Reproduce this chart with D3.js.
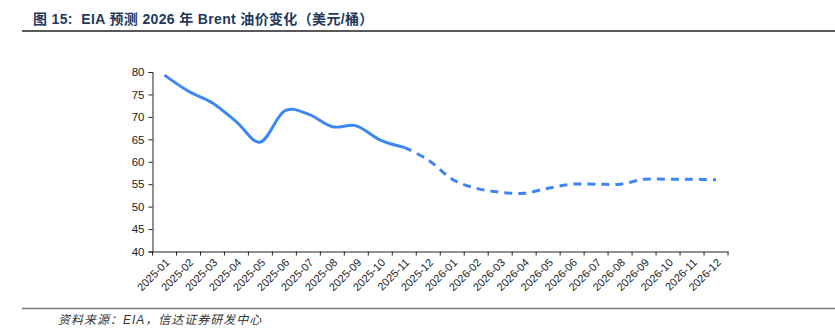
<!DOCTYPE html>
<html><head><meta charset="utf-8">
<script src="https://cdn.jsdelivr.net/npm/d3@7"></script>
<style>
body{margin:0;background:#fff;}
svg{display:block;}
</style></head>
<body>
<svg id="chart" width="835" height="331"></svg>
<script>
const categories = ["2025-01","2025-02","2025-03","2025-04","2025-05","2025-06","2025-07","2025-08","2025-09","2025-10","2025-11","2025-12",
  "2026-01","2026-02","2026-03","2026-04","2026-05","2026-06","2026-07","2026-08","2026-09","2026-10","2026-11","2026-12"];
const actualValues = [79.3, 75.7, 73.1, 68.9, 64.4, 71.3, 70.6, 67.8, 68.0, 64.8, 63.2];
const forecastValues = [63.2, 60.4, 56.1, 54.1, 53.2, 53.0, 54.1, 55.0, 55.0, 55.0, 56.1, 56.1, 56.1, 56.0];
const forecastStart = 10;
const yTicks = [40,45,50,55,60,65,70,75,80];
const titleText = "图 15:  EIA 预测 2026 年 Brent 油价变化（美元/桶）";
const sourceText = "资料来源：EIA，信达证券研发中心";

(function(){
const svg = d3.select("#chart");
const mLeft = 152.5, mRight = 728, mTop = 72, mBottom = 251.5;
const x = d3.scaleBand().domain(categories).range([mLeft, mRight]);
const y = d3.scaleLinear().domain([40, 80]).range([mBottom, mTop]);
const color = "#3D86F5";
const font = "'Liberation Sans', Arial, sans-serif";

// title
svg.append("text").attr("x", 33).attr("y", 24)
  .attr("font-family", "'Liberation Sans','Noto Sans CJK SC',sans-serif")
  .attr("font-weight", "bold").attr("font-size", 14).attr("fill", "#1F3A5C")
  .attr("letter-spacing", 0.35)
  .style("white-space","pre")
  .text(titleText);
svg.append("line").attr("x1", 22).attr("x2", 835).attr("y1", 31).attr("y2", 31)
  .attr("stroke", "#222").attr("stroke-width", 1.3);

// y axis
const yAxis = svg.append("g").attr("transform", `translate(${mLeft},0)`)
  .call(d3.axisLeft(y).tickValues(yTicks).tickSize(4).tickPadding(4));
yAxis.selectAll("text").attr("font-family", font).attr("font-size", 11.5).attr("fill", "#222");
yAxis.selectAll("line,path").attr("stroke", "#222");

// x axis
const xAxis = svg.append("g").attr("transform", `translate(0,${mBottom})`)
  .call(d3.axisBottom(x).tickSize(0).tickFormat(""));
xAxis.select("path").attr("stroke", "#222");
const edges = categories.map(c => x(c)).concat([mRight]);
xAxis.selectAll(".edge").data(edges).enter().append("line")
  .attr("x1", d => d).attr("x2", d => d).attr("y1", 0).attr("y2", 4).attr("stroke", "#222");
xAxis.selectAll(".lbl").data(categories).enter().append("text")
  .attr("transform", d => `translate(${x(d) + x.bandwidth()/2 + 3},${9}) rotate(-45)`)
  .attr("text-anchor", "end").attr("dy", "0.35em")
  .attr("font-family", font).attr("font-size", 11).attr("fill", "#222")
  .text(d => d);

// lines
const line = d3.line().curve(d3.curveCatmullRom.alpha(0))
  .x(d => x(d.c) + x.bandwidth()/2).y(d => y(d.v));
const fData = forecastValues.map((v, i) => ({c: categories[forecastStart + i], v}));
const aData = actualValues.map((v, i) => ({c: categories[i], v}));
svg.append("path").datum(fData).attr("d", line).attr("fill", "none")
  .attr("stroke", color).attr("stroke-width", 3).attr("stroke-dasharray", "8,6");
svg.append("path").datum(aData).attr("d", line).attr("fill", "none")
  .attr("stroke", color).attr("stroke-width", 3).attr("stroke-linejoin", "round");

// footer
svg.append("line").attr("x1", 22).attr("x2", 835).attr("y1", 308.5).attr("y2", 308.5)
  .attr("stroke", "#777").attr("stroke-width", 1.5);
svg.append("text").attr("x", 58).attr("y", 324)
  .attr("font-family", "'Liberation Sans','Noto Sans CJK SC',sans-serif")
  .attr("font-style", "italic").attr("font-size", 12).attr("fill", "#333")
  .attr("letter-spacing", 1)
  .text(sourceText);
})();
</script>
</body></html>
